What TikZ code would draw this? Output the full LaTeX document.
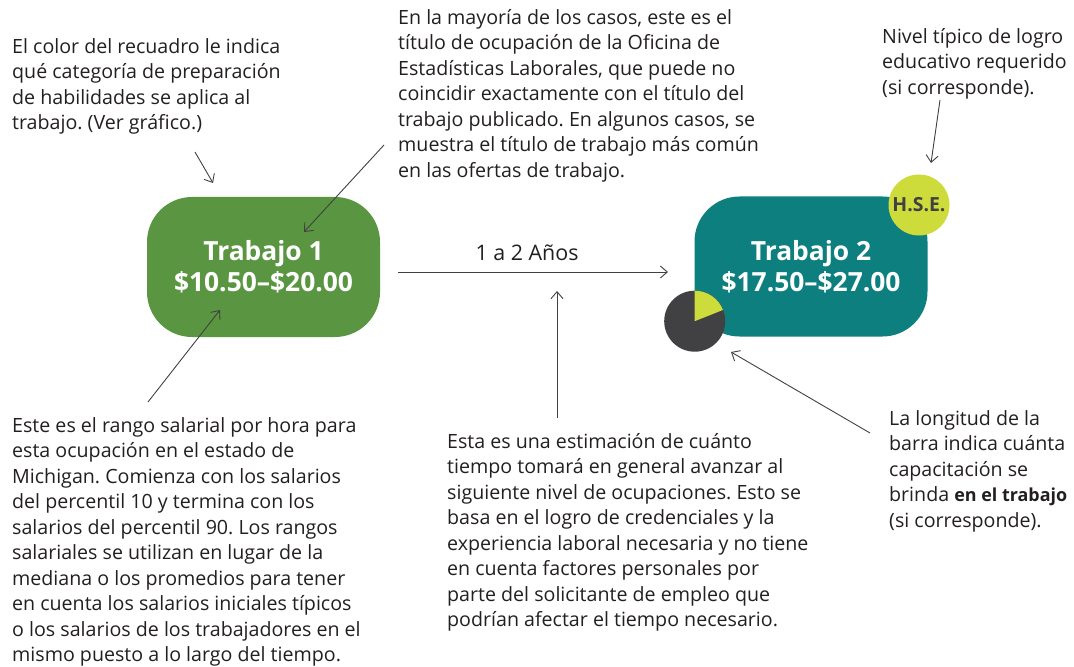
\documentclass[tikz,border=0pt]{standalone}
\usepackage{fontspec}
\setmainfont{Open Sans}
\usetikzlibrary{arrows.meta}
\definecolor{jobgreen}{HTML}{5A9641}
\definecolor{jobteal}{HTML}{0D7F7E}
\definecolor{lime}{HTML}{CEDC3B}
\definecolor{ink}{HTML}{414042}
\definecolor{txt}{HTML}{231F20}
\tikzset{
  jobbox/.style={rounded corners=45bp, minimum width=233bp, minimum height=140bp, inner sep=0pt,
    text=white, align=center, font=\fontsize{26.5}{31}\selectfont\bfseries},
  note/.style={anchor=north west, inner sep=0pt, align=left, text=txt,
    font=\fontsize{19.7}{25.6}\selectfont\frenchspacing},
  pointer/.style={draw=ink, line width=0.9bp, -{Straight Barb[length=7bp,width=12bp]}},
}
\begin{document}
\begin{tikzpicture}[x=1bp,y=-1bp]
\useasboundingbox (0,0) rectangle (1074,667);
% boxes
\node[jobbox, fill=jobgreen] (job1) at (263.5,267) {Trabajo 1\\\$10.50–\$20.00};
\node[jobbox, fill=jobteal] (job2) at (811,266.5) {Trabajo 2\\\$17.50–\$27.00};
% education circle
\node[circle, fill=lime, minimum size=61bp, inner sep=0pt, text=ink,
  font=\fontsize{19.5}{20}\selectfont\bfseries] (hse) at (919,205) {H.S.E.};
% pie
\coordinate (pie) at (694.7,321.2);
\fill[ink] (pie) circle (30.5bp);
\fill[lime] (pie) -- ++(0,-30.5) arc[start angle=90, end angle=21.7, radius=30.5bp] -- cycle;
% notes
\node[note] (n1) at (12,38) {El color del recuadro le indica\\qué categoría de preparación\\de habilidades se aplica al\\trabajo. (Ver gráfico.)};
\node[note] (n2) at (398,9) {En la mayoría de los casos, este es el\\título de ocupación de la Oficina de\\Estadísticas Laborales, que puede no\\coincidir exactamente con el título del\\trabajo publicado. En algunos casos, se\\muestra el título de trabajo más común\\en las ofertas de trabajo.};
\node[note] (n3) at (882,28) {Nivel típico de logro\\educativo requerido\\(si corresponde).};
\node[note] (n4) at (12,417) {Este es el rango salarial por hora para\\esta ocupación en el estado de\\Michigan. Comienza con los salarios\\del percentil 10 y termina con los\\salarios del percentil 90. Los rangos\\salariales se utilizan en lugar de la\\mediana o los promedios para tener\\en cuenta los salarios iniciales típicos\\o los salarios de los trabajadores en el\\mismo puesto a lo largo del tiempo.};
\node[note] (n5) at (447,433) {Esta es una estimación de cuánto\\tiempo tomará en general avanzar al\\siguiente nivel de ocupaciones. Esto se\\basa en el logro de credenciales y la\\experiencia laboral necesaria y no tiene\\en cuenta factores personales por\\parte del solicitante de empleo que\\podrían afectar el tiempo necesario.};
\node[note] (n6) at (889,410) {La longitud de la\\barra indica cuánta\\capacitación se\\brinda {\fontsize{18}{25.6}\selectfont\bfseries en el trabajo}\\(si corresponde).};
% progression arrow
\coordinate (pa) at (398,272);
\coordinate (pb) at (668,272);
\draw[pointer] (pa) -- (pb);
\node[font=\fontsize{21.5}{24}\selectfont, text=txt, inner sep=0pt] (yrs) at (527,253) {1 a 2 Años};
% pointer coordinates
\coordinate (a1s) at (195,152); \coordinate (a1e) at (213,183);
\coordinate (a2s) at (384,145); \coordinate (a2e) at (304,232);
\coordinate (a3s) at (148,402); \coordinate (a3e) at (220,310);
\coordinate (a4s) at (557,418); \coordinate (a4e) at (557,291);
\coordinate (a5s) at (940,100); \coordinate (a5e) at (931,163);
\coordinate (a6s) at (870,433); \coordinate (a6e) at (731,352);
\draw[pointer] (a1s) -- (a1e);
\draw[pointer] (a2s) -- (a2e);
\draw[pointer] (a3s) -- (a3e);
\draw[pointer] (a4s) -- (a4e);
\draw[pointer] (a5s) -- (a5e);
\draw[pointer] (a6s) -- (a6e);
\end{tikzpicture}
\end{document}
